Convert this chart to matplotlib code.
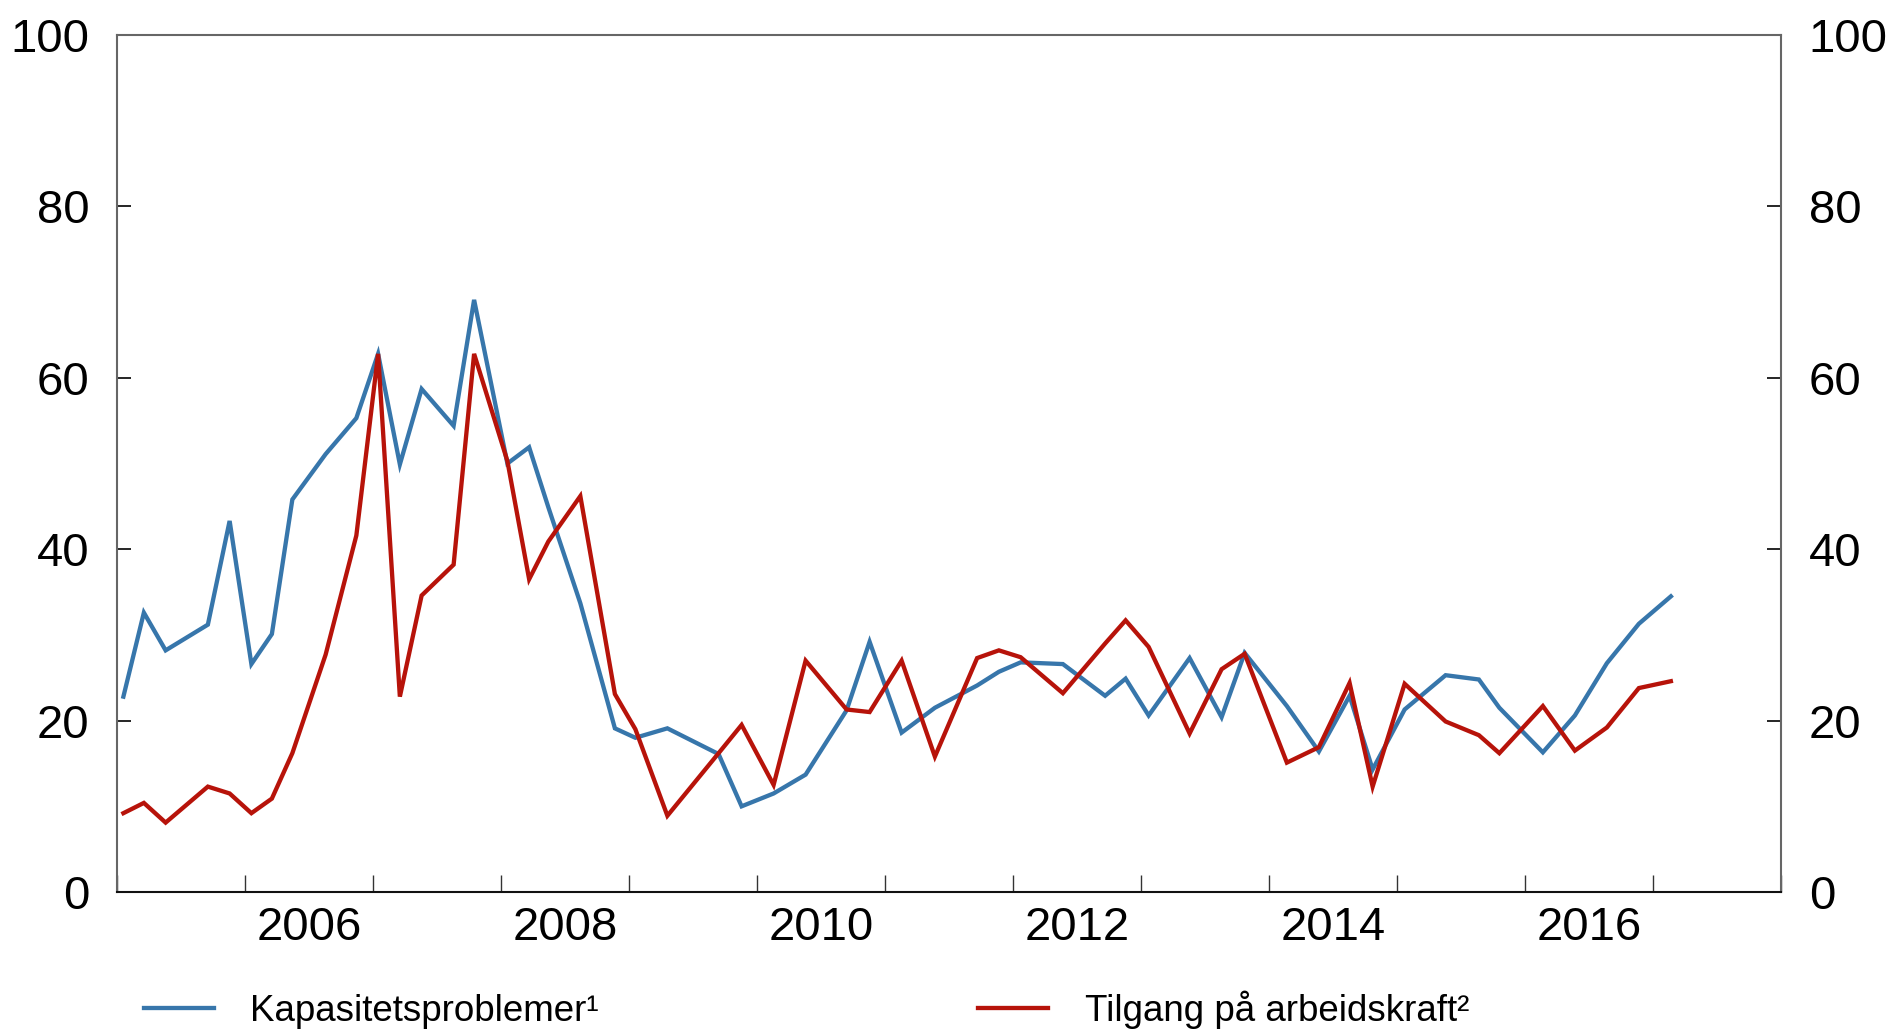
import numpy as np
import matplotlib
matplotlib.use('Agg')
import matplotlib.pyplot as plt

plt.rcParams['font.family'] = ['Liberation Sans', 'DejaVu Sans']

# survey dates as fractional years, values in percent
dates = [2005.05, 2005.21, 2005.38, 2005.71, 2005.88,
         2006.05, 2006.21, 2006.37, 2006.63, 2006.87,
         2007.04, 2007.21, 2007.38, 2007.63, 2007.79,
         2008.05, 2008.22, 2008.37, 2008.62, 2008.89,
         2009.05, 2009.30, 2009.70, 2009.88,
         2010.13, 2010.38, 2010.70, 2010.88,
         2011.13, 2011.39, 2011.72, 2011.89,
         2012.06, 2012.39, 2012.72, 2012.88,
         2013.06, 2013.38, 2013.63, 2013.81,
         2014.14, 2014.39, 2014.63, 2014.81,
         2015.06, 2015.38, 2015.64, 2015.80,
         2016.14, 2016.39, 2016.64, 2016.89,
         2017.14]

kapasitet = [22.8, 32.6, 28.2, 31.2, 43.3,
             26.6, 30.1, 45.8, 51.1, 55.3,
             62.8, 49.9, 58.7, 54.4, 69.1,
             50.0, 51.9, 44.9, 33.7, 19.1,
             18.0, 19.1, 16.1, 10.0,
             11.5, 13.7, 21.2, 29.2,
             18.6, 21.5, 24.1, 25.7,
             26.8, 26.6, 22.9, 24.9,
             20.6, 27.3, 20.4, 27.9,
             21.7, 16.4, 22.9, 14.3,
             21.3, 25.3, 24.8, 21.5,
             16.3, 20.6, 26.7, 31.3,
             34.5]

arbeidskraft = [9.2, 10.4, 8.1, 12.3, 11.5,
                9.2, 10.9, 16.2, 27.7, 41.6,
                62.8, 22.8, 34.6, 38.2, 62.8,
                50.3, 36.5, 40.9, 46.2, 23.1,
                19.0, 8.9, 16.2, 19.5,
                12.5, 27.0, 21.3, 21.0,
                27.0, 15.8, 27.3, 28.2,
                27.4, 23.2, 29.0, 31.7,
                28.6, 18.5, 26.0, 27.8,
                15.1, 16.9, 24.4, 12.3,
                24.3, 19.9, 18.3, 16.2,
                21.7, 16.5, 19.2, 23.8,
                24.6]

year_labels = ['2006', '2008', '2010', '2012', '2014', '2016']
y_ticks = [0, 20, 40, 60, 80, 100]

blue = '#3776AB'
red = '#B7130A'

fig = plt.figure(figsize=(18.9, 10.31), dpi=100)
ax = fig.add_axes([0.0619, 0.1348, 0.8804, 0.8312])

ax.plot(dates, kapasitet, color=blue, lw=3.1, label='Kapasitetsproblemer¹', solid_joinstyle='miter')
ax.plot(dates, arbeidskraft, color=red, lw=3.1, label='Tilgang på arbeidskraft²', solid_joinstyle='miter')

ax.set_xlim(2005, 2018)
ax.set_ylim(0, 100)

# year boundaries as ticks, labels centred in the year
ax.set_xticks(np.arange(2005, 2019))
ax.set_xticklabels([])
ax.set_xticks([int(y) + 0.5 for y in year_labels], minor=True)
ax.set_xticklabels(year_labels, minor=True)
ax.tick_params(axis='x', which='major', direction='in', length=12, width=1, color='#333333')
ax.tick_params(axis='x', which='minor', length=0, pad=10, labelsize=34)

ax.set_yticks(y_ticks)
ax.tick_params(axis='y', which='major', direction='in', length=10, width=1.2,
               labelsize=34, pad=20, right=True, labelright=True)

for side in ['left', 'top', 'right']:
    ax.spines[side].set_color('#666666')
    ax.spines[side].set_linewidth(1.5)
ax.spines['bottom'].set_color('#111111')
ax.spines['bottom'].set_linewidth(1.5)

fig.legend(loc='lower left', bbox_to_anchor=(0.0585, -0.03), ncol=2, frameon=False,
           fontsize=26.5, handlelength=1.9, handletextpad=1.0, columnspacing=10.3)

fig.savefig('out.png', dpi=100)
